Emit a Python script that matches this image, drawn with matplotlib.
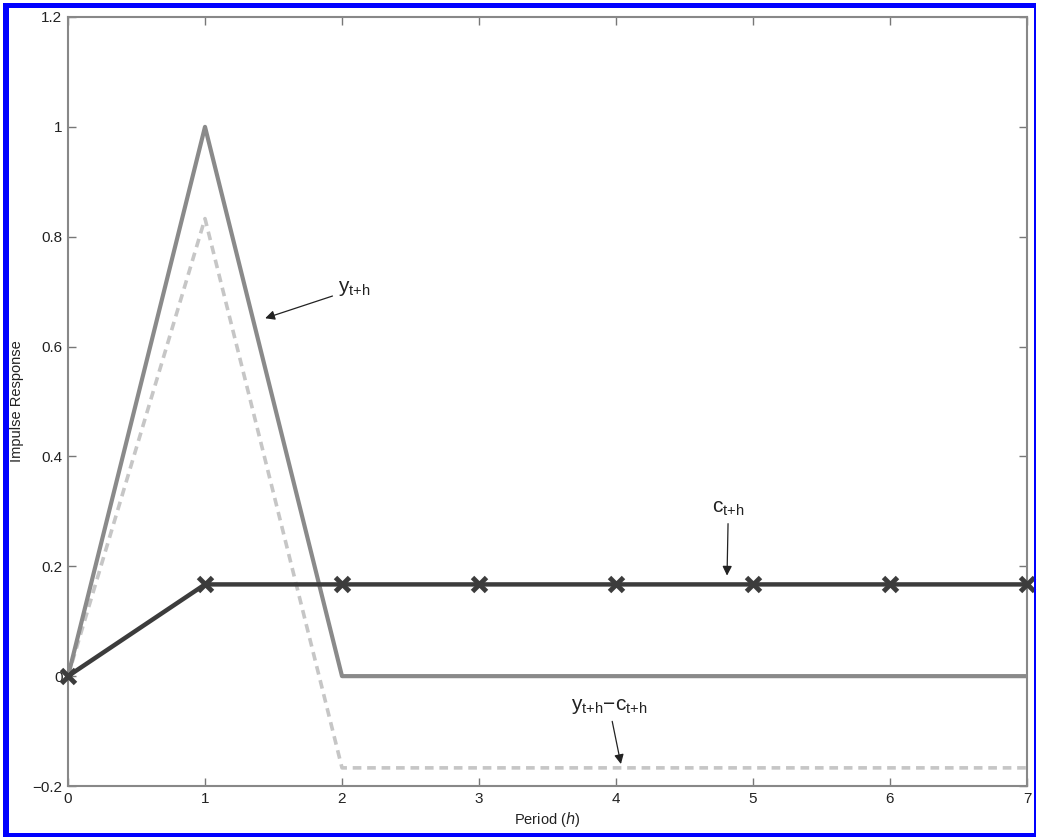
import numpy as np
import matplotlib
matplotlib.use("Agg")
import matplotlib.pyplot as plt
from matplotlib.patches import Rectangle

plt.rcParams['font.family'] = ['Liberation Sans', 'DejaVu Sans']

# impulse responses over periods h = 0..7
period = [0, 1, 2, 3, 4, 5, 6, 7]
y_resp = [0, 1.0, 0, 0, 0, 0, 0, 0]
c_resp = [0, 0.167, 0.167, 0.167, 0.167, 0.167, 0.167, 0.167]
yc_resp = [0, 0.833, -0.167, -0.167, -0.167, -0.167, -0.167, -0.167]

xticks = [0, 1, 2, 3, 4, 5, 6, 7]
yticks = [-0.2, 0, 0.2, 0.4, 0.6, 0.8, 1, 1.2]
ytick_labels = ['\u22120.2', '0', '0.2', '0.4', '0.6', '0.8', '1', '1.2']

W, H = 1037, 838
fig = plt.figure(figsize=(W / 100, H / 100), dpi=100)
ax = fig.add_axes([68/W, 1 - 786/H, (1027-68)/W, (786-17)/H])

ax.plot(period, yc_resp, color='#c6c6c6', lw=2.6, ls=(0, (2.4, 1.6)), zorder=2)
ax.plot(period, y_resp, color='#8a8a8a', lw=3, zorder=3)
ax.plot(period, c_resp, color='#3c3c3c', lw=3.2, marker='x', ms=10,
        mew=3.5, clip_on=False, zorder=4)

ax.set_xlim(0, 7)
ax.set_ylim(-0.2, 1.2)
ax.set_xticks(xticks)
ax.set_yticks(yticks)
ax.set_yticklabels(ytick_labels)
ax.tick_params(direction='in', length=6, width=1, color='#777777',
               top=True, right=True, labelsize=11, labelcolor='#222222', pad=4)
for s in ax.spines.values():
    s.set_color('#888888')
    s.set_linewidth(1.5)

ax.set_xlabel('Period ($\\it{h}$)', fontsize=10.5, color='#222222', labelpad=3)
ax.set_ylabel('Impulse Response', fontsize=10.5, color='#222222', labelpad=6)

arrow = dict(arrowstyle='-|>', color='#222222', lw=0.9, mutation_scale=14)
ax.annotate('$\\mathregular{y_{t{+}h}}$', xy=(1.42, 0.65), xytext=(1.97, 0.705),
            fontsize=15, color='#222222', arrowprops=arrow, va='center')
ax.annotate('$\\mathregular{c_{t{+}h}}$', xy=(4.81, 0.178), xytext=(4.82, 0.305),
            fontsize=15, color='#222222', arrowprops=arrow, ha='center', va='center')
ax.annotate('$\\mathregular{y_{t{+}h}{-}c_{t{+}h}}$', xy=(4.04, -0.165), xytext=(3.95, -0.055),
            fontsize=15, color='#222222', arrowprops=arrow, ha='center', va='center')

# blue frame round the picture: thick on the left/top, thin on the right/bottom
for x0, y0, x1, y1 in [(3, 3, 9, 837), (3, 3, 1036, 8), (1034, 3, 1036, 837), (3, 833, 1036, 837)]:
    fig.patches.append(Rectangle((x0 / W, 1 - y1 / H), (x1 - x0) / W, (y1 - y0) / H,
                                 transform=fig.transFigure, color='#0000ff', lw=0))

fig.savefig('out.png', dpi=100)
